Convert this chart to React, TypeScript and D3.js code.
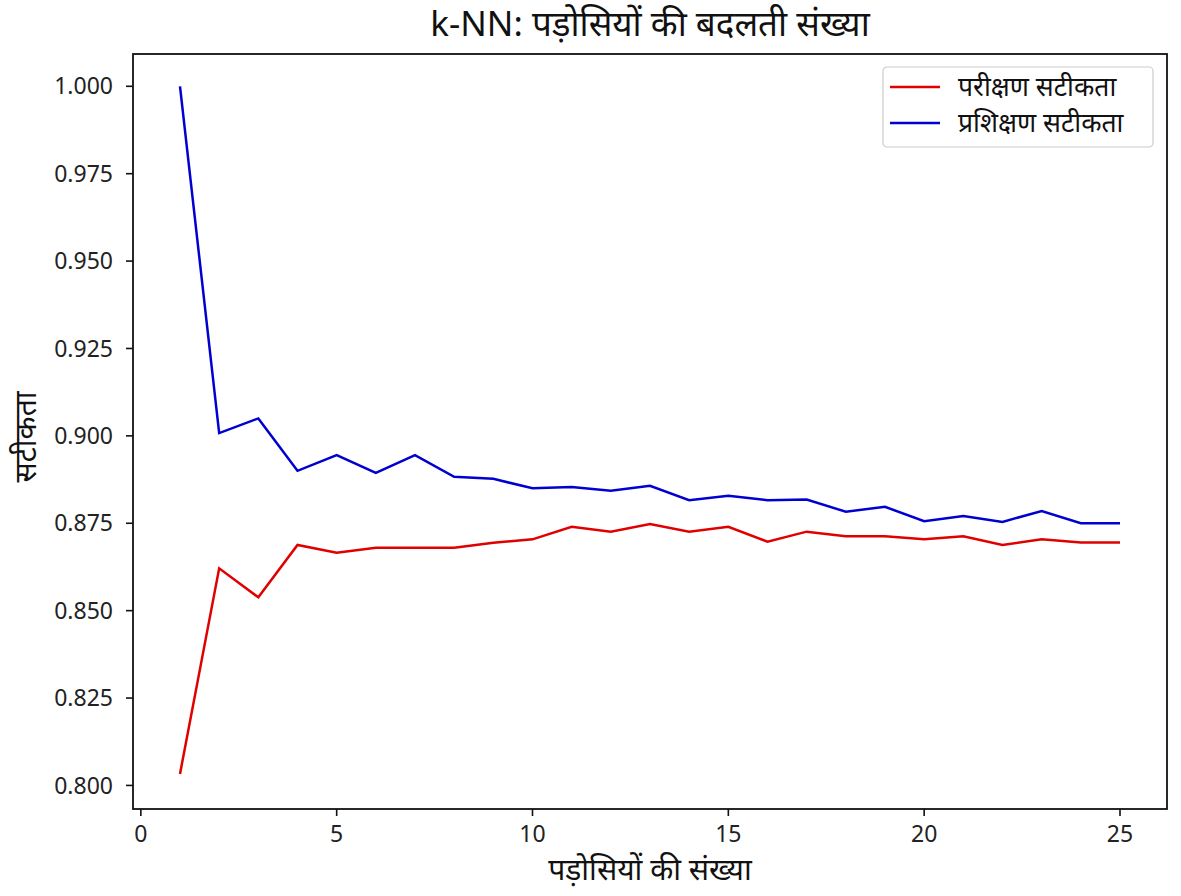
import * as d3 from 'd3';

const neighbors = d3.range(1, 26);
const testAccuracy = [
  0.8033, 0.8621, 0.8538, 0.8688, 0.8666, 0.868, 0.868, 0.868, 0.8694, 0.8704,
  0.874, 0.8726, 0.8748, 0.8726, 0.874, 0.8697, 0.8726, 0.8713, 0.8713, 0.8704,
  0.8713, 0.8688, 0.8704, 0.8695, 0.8695,
];
const trainAccuracy = [
  1.0, 0.9008, 0.905, 0.89, 0.8945, 0.8894, 0.8945, 0.8883, 0.8877, 0.885,
  0.8854, 0.8843, 0.8857, 0.8816, 0.8829, 0.8816, 0.8818, 0.8783, 0.8797, 0.8756,
  0.8771, 0.8754, 0.8785, 0.875, 0.875,
];
const xTicks = [0, 5, 10, 15, 20, 25];
const yTicks = [0.8, 0.825, 0.85, 0.875, 0.9, 0.925, 0.95, 0.975, 1.0];

const series = [
  { label: 'परीक्षण सटीकता', values: testAccuracy, color: '#e00000' },
  { label: 'प्रशिक्षण सटीकता', values: trainAccuracy, color: '#0000d0' },
];

const W = 1181;
const H = 896;
const M = { left: 133, right: 1167, top: 54, bottom: 809 };
const FONT = '"Noto Sans", "Open Sans", sans-serif';

export default function App() {
  const x = d3.scaleLinear().domain([-0.2, 26.2]).range([M.left, M.right]);
  const y = d3.scaleLinear().domain([0.79326, 1.00924]).range([M.bottom, M.top]);
  const line = d3
    .line<number>()
    .x((_, i) => x(neighbors[i]))
    .y((d) => y(d));

  return (
    <svg width={W} height={H} style={{ position: 'absolute', left: 0, top: 0, background: '#fff' }}>
      <rect x={0} y={0} width={W} height={H} fill="#fff" />
      <text x={650} y={36} textAnchor="middle" fontSize={35} fontFamily={FONT} fill="#111">
        k-NN: पड़ोसियों की बदलती संख्या
      </text>

      {series.map((s) => (
        <path key={s.label} d={line(s.values) ?? ''} fill="none" stroke={s.color} strokeWidth={2.5} />
      ))}

      <rect
        x={M.left}
        y={M.top}
        width={M.right - M.left}
        height={M.bottom - M.top}
        fill="none"
        stroke="#111"
        strokeWidth={1.8}
      />

      {xTicks.map((t) => (
        <g key={t} transform={`translate(${x(t)},${M.bottom})`}>
          <line y1={0} y2={7} stroke="#111" strokeWidth={1.6} />
          <text y={33} textAnchor="middle" fontSize={23} fontFamily={FONT} fill="#222">
            {t}
          </text>
        </g>
      ))}
      {yTicks.map((t) => (
        <g key={t} transform={`translate(${M.left},${y(t)})`}>
          <line x1={0} x2={-7} stroke="#111" strokeWidth={1.6} />
          <text x={-20} dy="0.35em" textAnchor="end" fontSize={23} fontFamily={FONT} fill="#222">
            {d3.format('.3f')(t)}
          </text>
        </g>
      ))}

      <text x={650} y={880} textAnchor="middle" fontSize={30} fontFamily={FONT} fill="#111">
        पड़ोसियों की संख्या
      </text>
      <text
        transform={`translate(36,437) rotate(-90)`}
        textAnchor="middle"
        fontSize={30}
        fontFamily={FONT}
        fill="#111"
      >
        सटीकता
      </text>

      <g transform="translate(883,67)">
        <rect width={270} height={80} rx={4} fill="#fff" stroke="#ccc" strokeWidth={1.2} />
        {series.map((s, i) => (
          <g key={s.label} transform={`translate(0,${20 + i * 36})`}>
            <line x1={7} x2={57} stroke={s.color} strokeWidth={2.5} />
            <text x={75} dy="0.35em" fontSize={26.5} fontFamily={FONT} fill="#111">
              {s.label}
            </text>
          </g>
        ))}
      </g>
    </svg>
  );
}
